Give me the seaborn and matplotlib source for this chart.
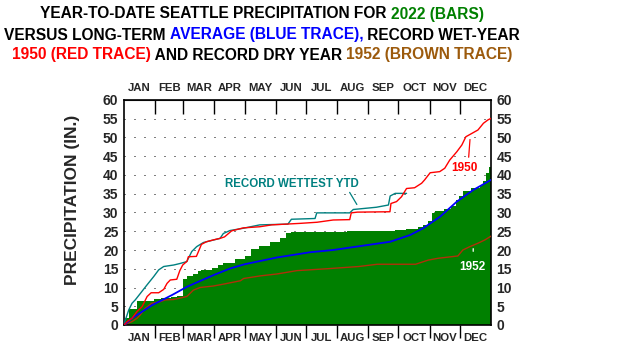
import numpy as np
import pandas as pd
import matplotlib
matplotlib.use("Agg")
import matplotlib.pyplot as plt
import seaborn as sns

# day-of-year / inches
bars_day = [0, 1, 5.3, 12.9, 29.5, 36.5, 47, 52.5, 58.4, 62.4, 68.7, 73.7, 77, 88, 93, 98, 110, 120,
            126, 134, 145, 155, 161, 166, 222, 270, 280, 292, 297, 302, 306, 309, 318, 325, 330, 333,
            337, 345, 354, 357, 360, 363, 365]
bars_val = [0.3, 1.9, 4.2, 6.5, 6.9, 7.1, 7.5, 7.6, 12.3, 13.1, 13.6, 14.4, 14.7, 15.3, 15.9, 16.6, 17.5, 18.3,
            20.3, 21.1, 22.0, 23.1, 24.4, 24.9, 25.1, 25.4, 25.7, 26.0, 26.7, 27.8, 29.8, 30.4, 30.8, 31.6, 33.3, 34.5,
            35.8, 36.5, 37.2, 38.5, 40.5, 42.2, 42.2]

avg_day = [0, 8, 28, 47.8, 62.7, 72, 89, 105.8, 120, 152, 185, 208, 241.5, 264.7, 274.6, 284.6, 297.5,
           314.4, 331, 347.3, 365]
avg_val = [0, 1.8, 5.3, 8.0, 10.2, 11.3, 13.3, 15.1, 16.2, 18.0, 19.4, 20.0, 21.3, 22.2, 23.1, 24.0, 25.8,
           28.9, 32.9, 36.0, 38.7]

wet_day = [0, 3, 8, 13, 18, 23, 27, 34.5, 39.5, 42.8, 46, 52.5, 55.5, 58.4, 62.7, 64, 72, 75, 77, 82, 89,
           95.5, 100, 107, 118.7, 135, 147, 175, 192, 208, 224.5, 226, 232, 264.5, 265.5, 271, 276, 281, 289,
           296, 299, 304.5, 314, 319, 324, 331, 336, 340, 346, 352, 357.5, 362, 365]
wet_val = [0, 0.9, 1.8, 3.6, 4.9, 7.6, 8.6, 8.6, 9.5, 11.1, 12.0, 12.2, 14.5, 16.0, 17.0, 18.2, 18.3, 20.2,
           21.5, 22.2, 22.7, 23.1, 23.5, 25.1, 25.9, 26.2, 26.7, 27.1, 27.4, 28.0, 28.1, 29.9, 30.1, 30.2, 32.4,
           32.9, 34.2, 36.4, 36.6, 37.8, 38.7, 40.6, 40.9, 41.8, 44.0, 46.2, 48.0, 50.2, 51.1, 52.0, 53.8, 54.7,
           55.1]

ytd_day = [0, 1.3, 4.7, 8, 11.2, 16.2, 22.9, 29.5, 34.5, 39.5, 49.5, 55.7, 62.4, 67.4, 72.3, 79, 95.5,
           98.8, 105.5, 118.7, 135, 163, 166.5, 190, 191.7, 224.5, 228, 251, 263, 264.7, 269.7, 281]
ytd_val = [0, 1.3, 4.0, 5.8, 6.7, 8.4, 10.7, 12.9, 14.7, 15.6, 16.0, 16.4, 16.9, 19.6, 20.9, 22.0, 23.1,
           24.4, 25.2, 25.8, 26.7, 26.9, 28.2, 28.4, 29.9, 29.9, 30.8, 31.4, 32.0, 34.4, 35.1, 35.1]

dry_day = [0, 3, 8, 13, 16.2, 21, 27.5, 36, 41, 49.5, 57.7, 62.5, 69, 75.6, 89, 99, 115.8, 119, 135.6,
           152, 172, 202, 233.6, 251.9, 290, 294.5, 302.5, 312.5, 332, 337, 344, 352, 359, 365]
dry_val = [0, 0.4, 0.9, 1.8, 2.7, 4.4, 5.8, 6.2, 6.7, 6.8, 7.3, 7.6, 9.3, 10.0, 10.4, 10.9, 11.8, 12.4, 13.1,
           13.6, 14.5, 15.0, 15.6, 16.2, 16.2, 16.6, 17.3, 17.8, 18.4, 20.0, 20.9, 21.8, 22.7, 23.7]

month_starts = [0, 31, 59, 90, 120, 151, 181, 212, 243, 273, 304, 334, 365]
months = ['JAN', 'FEB', 'MAR', 'APR', 'MAY', 'JUN', 'JUL', 'AUG', 'SEP', 'OCT', 'NOV', 'DEC']

sns.set_style("white")
plt.rcParams['font.family'] = ['Liberation Sans', 'DejaVu Sans']
plt.rcParams['font.weight'] = 'bold'

W, H = 618, 356
fig = plt.figure(figsize=(W / 100, H / 100), dpi=100)
ax = fig.add_axes([124 / W, 31 / H, 367 / W, 225 / H])

# dotted gridlines
for v in range(5, 60, 5):
    ax.axhline(v, color='black', lw=0.72, linestyle=(0, (1, 9)), zorder=0)

ax.fill_between(bars_day, bars_val, step='post', color='#008000', lw=0, zorder=1)

sns.lineplot(x=dry_day, y=dry_val, ax=ax, color='#B0300A', lw=1.0, sort=False, estimator=None, zorder=3)
sns.lineplot(x=avg_day, y=avg_val, ax=ax, color='#0000FF', lw=1.3, sort=False, estimator=None, zorder=4)
sns.lineplot(x=ytd_day, y=ytd_val, ax=ax, color='#008080', lw=1.0, sort=False, estimator=None, zorder=3)
sns.lineplot(x=wet_day, y=wet_val, ax=ax, color='#FF0000', lw=1.0, sort=False, estimator=None, zorder=5)

ax.set_xlim(0, 365)
ax.set_ylim(0, 60)
for s in ax.spines.values():
    s.set_color('black')
    s.set_linewidth(1.2)

mids = [(a + b) / 2 for a, b in zip(month_starts[:-1], month_starts[1:])]
ax.set_xticks(month_starts[1:-1])
ax.set_xticklabels([])
ax.set_xticks(mids, minor=True)
ax.set_xticklabels(months, minor=True)
ax.tick_params(axis='x', which='major', direction='out', length=9, width=1, color='black', bottom=True)
ax.tick_params(axis='x', which='minor', length=0, pad=6, labelsize=8.2)

top = ax.secondary_xaxis('top')
top.set_xticks(month_starts[1:-1])
top.set_xticklabels([])
top.set_xticks(mids, minor=True)
top.set_xticklabels(months, minor=True)
top.tick_params(axis='x', which='major', direction='in', length=10, width=1, color='black')
top.tick_params(axis='x', which='minor', length=0, pad=5, labelsize=8.2)

ax.set_yticks(range(0, 61, 5))
ax.tick_params(axis='y', length=0, labelsize=10, labelleft=True, labelright=True, pad=4)
for lab in ax.get_yticklabels():
    lab.set_fontweight('bold')
ax.set_ylabel('')
ax.set_xlabel('')

fig.text(73 / W, 1 - 200 / H, 'PRECIPITATION (IN.)', rotation=90, ha='center', va='center',
         fontsize=12.5, fontweight='bold')

# annotations
ax.annotate('', xy=(233, 31.5), xytext=(223, 36),
            arrowprops=dict(arrowstyle='-', color='#008080', lw=0.9))
ax.text(167, 37.6, 'RECORD WETTEST YTD', color='#008080', fontsize=8.3, fontweight='bold',
        ha='center', va='center', zorder=6)
ax.annotate('', xy=(344.3, 50.2), xytext=(342.6, 44),
            arrowprops=dict(arrowstyle='-', color='#FF0000', lw=0.9))
ax.text(338.3, 41.9, '1950', color='#FF0000', fontsize=8.5, fontweight='bold', ha='center', va='center')
ax.annotate('', xy=(347.3, 21.1), xytext=(347.3, 18.9),
            arrowprops=dict(arrowstyle='-', color='white', lw=0.9))
ax.text(346.3, 15.5, '1952', color='white', fontsize=8.5, fontweight='bold', ha='center', va='center')

# multi-coloured title
title_lines = [
    [('YEAR-TO-DATE SEATTLE PRECIPITATION FOR ', 'black'), ('2022 (BARS)', '#008000')],
    [('VERSUS LONG-TERM ', 'black'), ('AVERAGE (BLUE TRACE),', '#0000FF'), (' RECORD WET-YEAR', 'black')],
    [('1950 (RED TRACE)', '#FF0000'), (' AND RECORD DRY YEAR ', 'black'), ('1952 (BROWN TRACE)', '#9C5A0C')],
]
title_y = [14, 35, 55]
renderer = fig.canvas.get_renderer()
for parts, yy in zip(title_lines, title_y):
    texts = [fig.text(0, 1 - yy / H, s, color=c, fontsize=11.2, fontweight='bold', va='center', ha='left')
             for s, c in parts]
    widths = [t.get_window_extent(renderer).width for t in texts]
    x = 262 - sum(widths) / 2
    for t, w in zip(texts, widths):
        t.set_x(x / W)
        x += w

fig.savefig('out.png', dpi=100, facecolor='white')
